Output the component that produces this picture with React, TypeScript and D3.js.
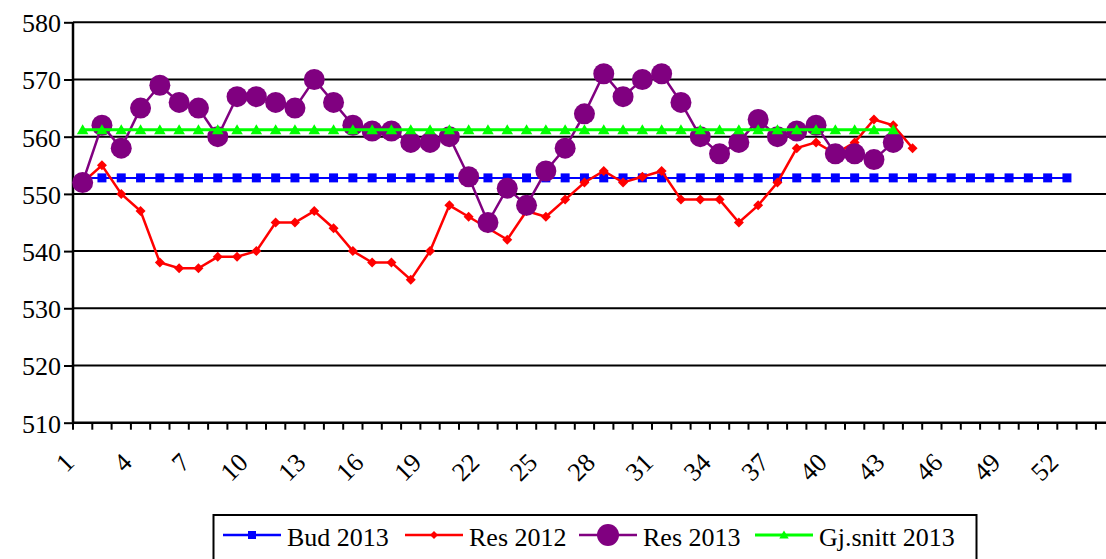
import React, { useRef, useEffect } from "react";
import * as d3 from "d3";

// weekly values
const weeks = d3.range(1, 55);
const xLabels = d3.range(1, 53, 3);
const yTicks = [510, 520, 530, 540, 550, 560, 570, 580];

const bud2013 = d3.range(1, 53).map((w) => ({ w, v: 552.8 }));
const res2012 = [
  552, 555, 550, 547, 538, 537, 537, 539, 539, 540, 545, 545, 547, 544, 540,
  538, 538, 535, 540, 548, 546, 544, 542, 547, 546, 549, 552, 554, 552, 553,
  554, 549, 549, 549, 545, 548, 552, 558, 559, 557, 559, 563, 562, 558,
];
const res2013 = [
  552, 562, 558, 565, 569, 566, 565, 560, 567, 567, 566, 565, 570, 566, 562,
  561, 561, 559, 559, 560, 553, 545, 551, 548, 554, 558, 564, 571, 567, 570,
  571, 566, 560, 557, 559, 563, 560, 561, 562, 557, 557, 556, 559,
];
const snitt2013 = d3.range(1, 44).map((w) => ({ w, v: 561.2 }));

const seriesNames = ["Bud 2013", "Res 2012", "Res 2013", "Gj.snitt 2013"];
const seriesColors = ["#0000ff", "#ff0000", "#800080", "#00ff00"];

const FONT = "Liberation Serif";

const Chart = () => {
  const ref = useRef(null);

  useEffect(() => {
    if (!ref.current) return;
    const svg = d3.select(ref.current);
    svg.selectAll("*").remove();

    const left = 73;
    const band = 19.3;
    const x = d3
      .scaleBand()
      .domain(weeks.map(String))
      .range([left, left + weeks.length * band])
      .padding(0);
    const cx = (w) => x(String(w)) + x.bandwidth() / 2;
    const y = d3.scaleLinear().domain([510, 580]).range([422.7, 22.3]);

    // gridlines
    svg
      .append("g")
      .selectAll("line")
      .data(yTicks.slice(1))
      .join("line")
      .attr("x1", left)
      .attr("x2", 1106)
      .attr("y1", (d) => y(d))
      .attr("y2", (d) => y(d))
      .attr("stroke", "#000")
      .attr("stroke-width", 2);

    // y axis
    const yAxis = svg.append("g").attr("transform", `translate(${left},0)`);
    yAxis
      .call(d3.axisLeft(y).tickValues(yTicks).tickSize(9).tickFormat(d3.format("d")))
      .call((g) => g.select(".domain").remove());
    yAxis.selectAll(".tick line").attr("stroke", "#000").attr("stroke-width", 2);
    yAxis
      .selectAll(".tick text")
      .style("font-family", FONT)
      .style("font-size", "26px")
      .attr("fill", "#000")
      .attr("x", -12)
      .attr("dy", "0.36em");
    svg
      .append("line")
      .attr("x1", left)
      .attr("x2", left)
      .attr("y1", y(580))
      .attr("y2", y(510))
      .attr("stroke", "#000")
      .attr("stroke-width", 2.5);

    // x axis
    svg
      .append("line")
      .attr("x1", left)
      .attr("x2", 1106)
      .attr("y1", y(510))
      .attr("y2", y(510))
      .attr("stroke", "#000")
      .attr("stroke-width", 2.5);
    svg
      .append("g")
      .selectAll("line")
      .data(d3.range(0, weeks.length + 1))
      .join("line")
      .attr("x1", (i) => left + i * band)
      .attr("x2", (i) => left + i * band)
      .attr("y1", y(510))
      .attr("y2", y(510) + 7)
      .attr("stroke", "#000")
      .attr("stroke-width", 2);
    svg
      .append("g")
      .selectAll("text")
      .data(xLabels)
      .join("text")
      .attr("transform", (d) => `translate(${cx(d) - 7},${464}) rotate(-45)`)
      .attr("text-anchor", "end")
      .style("font-family", FONT)
      .style("font-size", "26px")
      .attr("fill", "#000")
      .text((d) => d);

    const line = d3
      .line()
      .x((d) => cx(d.w))
      .y((d) => y(d.v));

    const toPts = (arr) => arr.map((v, i) => ({ w: i + 1, v }));
    const data = [bud2013, toPts(res2012), toPts(res2013), snitt2013];
    const widths = [2, 2.5, 2.5, 3];

    const square = d3.symbol().type(d3.symbolSquare).size(81);
    const diamond = (s) => `M0,${-s}L${s},0L0,${s}L${-s},0Z`;
    const triangle = (s) => `M0,${-s}L${s * 1.05},${s * 0.8}L${-s * 1.05},${s * 0.8}Z`;

    data.forEach((pts, k) => {
      const g = svg.append("g");
      g.append("path")
        .datum(pts)
        .attr("d", line)
        .attr("fill", "none")
        .attr("stroke", seriesColors[k])
        .attr("stroke-width", widths[k]);
      const m = g
        .selectAll(".m")
        .data(pts)
        .join(k === 2 ? "circle" : "path")
        .attr("fill", seriesColors[k]);
      if (k === 0) m.attr("d", square()).attr("transform", (d) => `translate(${cx(d.w)},${y(d.v)})`);
      if (k === 1) m.attr("d", diamond(5)).attr("transform", (d) => `translate(${cx(d.w)},${y(d.v)})`);
      if (k === 2) m.attr("cx", (d) => cx(d.w)).attr("cy", (d) => y(d.v)).attr("r", 10.5);
      if (k === 3) m.attr("d", triangle(5.5)).attr("transform", (d) => `translate(${cx(d.w)},${y(d.v)})`);
    });

    // legend
    const lg = svg.append("g");
    lg.append("rect")
      .attr("x", 213.5)
      .attr("y", 515)
      .attr("width", 763)
      .attr("height", 60)
      .attr("fill", "#fff")
      .attr("stroke", "#000")
      .attr("stroke-width", 2);
    const sampleX = [223, 405, 579, 755];
    sampleX.forEach((sx, k) => {
      const ly = 535;
      const mid = sx + 29;
      lg.append("line")
        .attr("x1", sx)
        .attr("x2", sx + 58)
        .attr("y1", ly)
        .attr("y2", ly)
        .attr("stroke", seriesColors[k])
        .attr("stroke-width", k === 3 ? 3 : 2.5);
      if (k === 0) lg.append("rect").attr("x", mid - 4).attr("y", ly - 4).attr("width", 8).attr("height", 8).attr("fill", seriesColors[k]);
      if (k === 1) lg.append("path").attr("d", diamond(4)).attr("transform", `translate(${mid},${ly})`).attr("fill", seriesColors[k]);
      if (k === 2) lg.append("circle").attr("cx", mid).attr("cy", ly).attr("r", 11).attr("fill", seriesColors[k]);
      if (k === 3) lg.append("path").attr("d", triangle(4.5)).attr("transform", `translate(${mid},${ly})`).attr("fill", seriesColors[k]);
      lg.append("text")
        .attr("x", sx + 64)
        .attr("y", 546)
        .style("font-family", FONT)
        .style("font-size", "26px")
        .attr("fill", "#000")
        .text(seriesNames[k]);
    });
  }, []);

  return (
    <div style={{ position: "absolute", left: 0, top: 0, width: 1106, height: 559, background: "#fff" }}>
      <svg ref={ref} width={1106} height={559} />
    </div>
  );
};

export default function App() {
  return <Chart />;
}
